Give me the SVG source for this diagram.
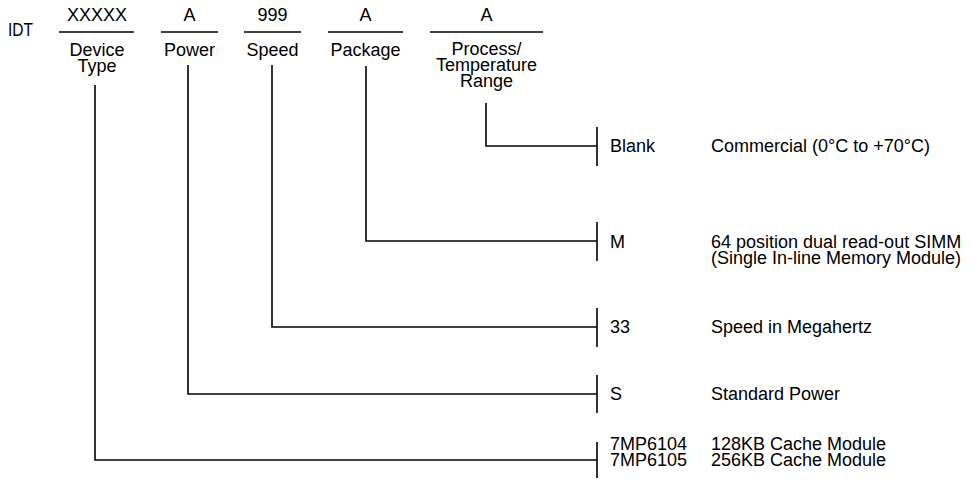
<svg xmlns="http://www.w3.org/2000/svg" width="973" height="483" viewBox="0 0 973 483">
<style>
text{font-family:"Liberation Sans",Arial,Helvetica,sans-serif;font-size:18px;fill:#000}
.c{text-anchor:middle}
line,polyline{stroke:#000;stroke-width:1.6;fill:none}
</style>
<rect width="973" height="483" fill="#fff"/>
<g id="header">
<text x="8" y="36" textLength="25" lengthAdjust="spacingAndGlyphs">IDT</text>
</g>
<g id="field-device">
<text class="c" x="97" y="21">XXXXX</text>
<line x1="59" y1="32" x2="134" y2="32"/>
<text class="c" x="97" y="56">Device</text>
<text class="c" x="97" y="72">Type</text>
</g>
<g id="field-power">
<text class="c" x="189.5" y="21">A</text>
<line x1="161" y1="32" x2="218" y2="32"/>
<text class="c" x="189.5" y="56">Power</text>
</g>
<g id="field-speed">
<text class="c" x="272.5" y="21">999</text>
<line x1="244" y1="32" x2="301" y2="32"/>
<text class="c" x="272.5" y="56">Speed</text>
</g>
<g id="field-package">
<text class="c" x="365.5" y="21">A</text>
<line x1="328" y1="32" x2="403" y2="32"/>
<text class="c" x="365.5" y="56">Package</text>
</g>
<g id="field-process">
<text class="c" x="486.5" y="21">A</text>
<line x1="430" y1="32" x2="543" y2="32"/>
<text class="c" x="486.5" y="55">Process/</text>
<text class="c" x="486.5" y="71">Temperature</text>
<text class="c" x="486.5" y="87">Range</text>
</g>
<g id="connectors">
<polyline points="486,103 486,146 597,146"/>
<polyline points="366,66 366,241 597,241"/>
<polyline points="272,65 272,327 597,327"/>
<polyline points="188,65 188,394 597,394"/>
<polyline points="95,85 95,460 597,460"/>
<line x1="597" y1="127" x2="597" y2="166"/>
<line x1="597" y1="222" x2="597" y2="261"/>
<line x1="597" y1="308" x2="597" y2="347"/>
<line x1="597" y1="375" x2="597" y2="413"/>
<line x1="597" y1="442" x2="597" y2="478"/>
</g>
<g id="opt-blank">
<text x="610" y="152">Blank</text>
<text x="711" y="152">Commercial (0°C to +70°C)</text>
</g>
<g id="opt-m">
<text x="610" y="248">M</text>
<text x="711" y="248">64 position dual read-out SIMM</text>
<text x="711" y="264">(Single In-line Memory Module)</text>
</g>
<g id="opt-33">
<text x="610" y="333">33</text>
<text x="711" y="333">Speed in Megahertz</text>
</g>
<g id="opt-s">
<text x="610" y="400">S</text>
<text x="711" y="400">Standard Power</text>
</g>
<g id="opt-7mp">
<text x="610" y="450">7MP6104</text>
<text x="711" y="450">128KB Cache Module</text>
<text x="610" y="466">7MP6105</text>
<text x="711" y="466">256KB Cache Module</text>
</g>
</svg>
